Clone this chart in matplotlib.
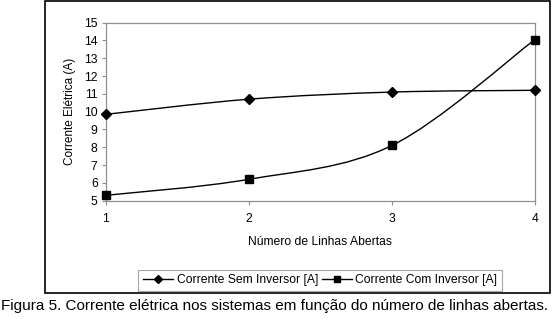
import matplotlib
matplotlib.use("Agg")
import matplotlib.pyplot as plt
from matplotlib.path import Path
from matplotlib.patches import PathPatch, Rectangle
from matplotlib.lines import Line2D
import numpy as np

plt.rcParams['font.family'] = ['Liberation Sans', 'DejaVu Sans']

linhas = [1, 2, 3, 4]
sem_inversor = [9.85, 10.7, 11.1, 11.2]
com_inversor = [5.3, 6.2, 8.1, 14.05]
label_sem = "Corrente Sem Inversor [A]"
label_com = "Corrente Com Inversor [A]"

fig = plt.figure(figsize=(5.52, 3.19), dpi=100)
ax = fig.add_axes([0.192, 0.371, 0.777, 0.558])

def smooth_path(xs, ys):
    pts = np.column_stack([xs, ys]).astype(float)
    n = len(pts)
    verts = [pts[0]]
    codes = [Path.MOVETO]
    for i in range(n - 1):
        p0 = pts[i - 1] if i > 0 else pts[i]
        p1 = pts[i]
        p2 = pts[i + 1]
        p3 = pts[i + 2] if i + 2 < n else pts[i + 1]
        c1 = p1 + (p2 - p0) / 6.0
        c2 = p2 - (p3 - p1) / 6.0
        verts += [c1, c2, p2]
        codes += [Path.CURVE4] * 3
    return Path(verts, codes)

for ys in (sem_inversor, com_inversor):
    ax.add_patch(PathPatch(smooth_path(linhas, ys), fill=False, edgecolor='black', lw=1.0, zorder=2))

ax.plot(linhas, sem_inversor, linestyle='none', marker='D', ms=5, color='black', zorder=3, clip_on=False)
ax.plot(linhas, com_inversor, linestyle='none', marker='s', ms=5.5, color='black', zorder=3, clip_on=False)

ax.set_xlim(1, 4)
ax.set_ylim(5, 15)
ax.set_xticks(linhas)
ax.set_yticks(range(5, 16))
for s in ax.spines.values():
    s.set_color('#909090')
    s.set_linewidth(0.9)
ax.tick_params(axis='both', direction='out', length=3, color='#909090', labelsize=8.7, pad=3)
ax.tick_params(axis='x', pad=6)
ax.set_xlabel("Número de Linhas Abertas", fontsize=8.7, labelpad=8)
ax.set_ylabel("Corrente Elétrica (A)", fontsize=8.5, labelpad=6)

handles = [Line2D([], [], color='black', marker='D', ms=4, lw=1.0),
           Line2D([], [], color='black', marker='s', ms=4.5, lw=1.0)]
leg = fig.legend(handles, [label_sem, label_com], loc='center', bbox_to_anchor=(0.580, 0.121),
                 ncol=2, fontsize=8.7, frameon=True, fancybox=False, edgecolor='#909090',
                 handlelength=2.5, handletextpad=0.3, columnspacing=0.3, borderpad=0.4)
leg.get_frame().set_linewidth(0.8)

fig.patches.append(Rectangle((0.0815, 0.0815), 0.914, 0.915, transform=fig.transFigure,
                             fill=False, edgecolor='black', lw=1.2))

fig.text(0.498, 0.04, "Figura 5. Corrente elétrica nos sistemas em função do número de linhas abertas.",
         ha='center', va='center', fontsize=11.0)

fig.savefig("out.png", dpi=100)
